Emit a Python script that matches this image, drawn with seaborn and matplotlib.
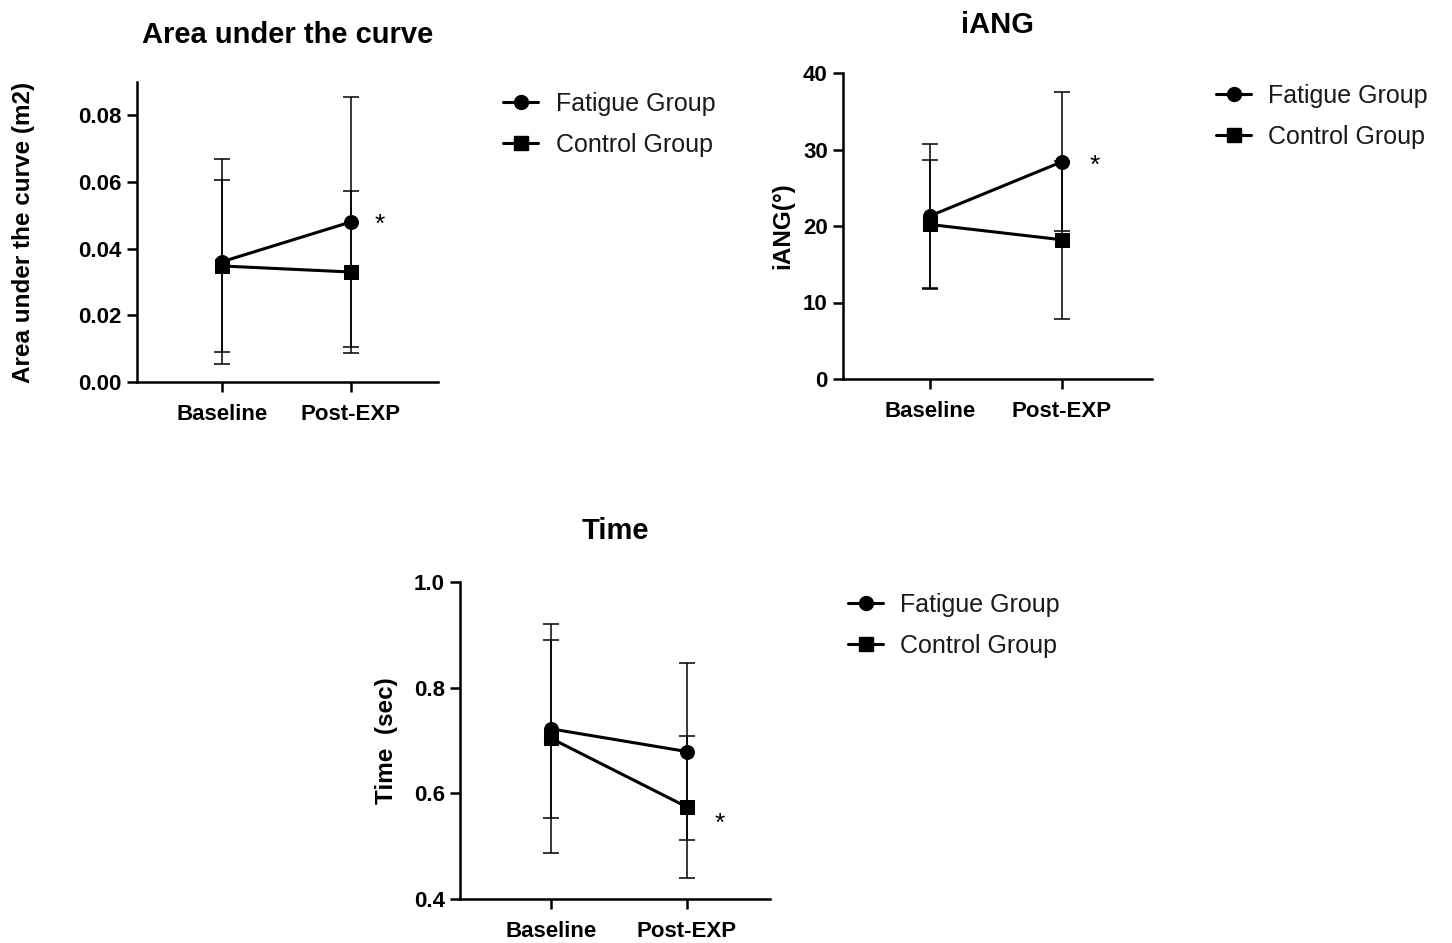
import matplotlib
matplotlib.use("Agg")
import matplotlib.pyplot as plt
import seaborn as sns
import pandas as pd
import numpy as np
from matplotlib.lines import Line2D

sns.set_style("ticks")
plt.rcParams['font.family'] = ['Liberation Sans', 'DejaVu Sans']
plt.rcParams['text.color'] = 'black'
plt.rcParams['axes.labelcolor'] = 'black'
plt.rcParams['xtick.color'] = 'black'
plt.rcParams['ytick.color'] = 'black'

timepoints = ["Baseline", "Post-EXP"]
groups = ["Fatigue Group", "Control Group"]

# Area under the curve (m2)
auc_fatigue_mean = [0.0361, 0.0480]
auc_fatigue_sd = [0.0307, 0.0374]
auc_control_mean = [0.0348, 0.0330]
auc_control_sd = [0.0259, 0.0242]

# iANG (deg)
iang_fatigue_mean = [21.3, 28.4]
iang_fatigue_sd = [9.4, 9.1]
iang_control_mean = [20.2, 18.2]
iang_control_sd = [8.4, 10.3]

# Time (sec)
time_fatigue_mean = [0.722, 0.679]
time_fatigue_sd = [0.168, 0.167]
time_control_mean = [0.704, 0.574]
time_control_sd = [0.217, 0.134]

W, H = 1452, 943
fig = plt.figure(figsize=(W / 100, H / 100), dpi=100)


def px_axes(l, t, r, b):
    return fig.add_axes([l / W, 1 - b / H, (r - l) / W, (b - t) / H])


panels = [
    dict(box=(137, 82, 438, 382), title="Area under the curve", ylabel="Area under the curve (m2)",
         fm=auc_fatigue_mean, fs=auc_fatigue_sd, cm=auc_control_mean, cs=auc_control_sd,
         ylim=(0, 0.09), yticks=[0, 0.02, 0.04, 0.06, 0.08], fmt="{:.2f}", xlim=(-0.664, 1.68),
         ylab_x=-0.338, star=(1.23, 0.0472), leg=(503, 92), title_y=1.157),
    dict(box=(843, 73, 1152, 379), title="iANG", ylabel="iANG(°)",
         fm=iang_fatigue_mean, fs=iang_fatigue_sd, cm=iang_control_mean, cs=iang_control_sd,
         ylim=(0, 40), yticks=[0, 10, 20, 30, 40], fmt="{:.0f}", xlim=(-0.655, 1.68),
         ylab_x=-0.158, star=(1.247, 27.8), leg=(1216, 84), title_y=1.157),
    dict(box=(460, 582, 770, 899), title="Time", ylabel="Time  (sec)",
         fm=time_fatigue_mean, fs=time_fatigue_sd, cm=time_control_mean, cs=time_control_sd,
         ylim=(0.4, 1.0), yticks=[0.4, 0.6, 0.8, 1.0], fmt="{:.1f}", xlim=(-0.67, 1.61),
         ylab_x=-0.200, star=(1.24, 0.542), leg=(848, 593), title_y=1.162),
]

markers = {"Fatigue Group": "o", "Control Group": "s"}
palette = {"Fatigue Group": "black", "Control Group": "black"}

for p in panels:
    ax = px_axes(*p["box"])
    x = np.arange(len(timepoints))
    df = pd.DataFrame({
        "pos": np.concatenate([x, x]),
        "mean": p["fm"] + p["cm"],
        "sd": p["fs"] + p["cs"],
        "group": [groups[0]] * len(x) + [groups[1]] * len(x),
    })
    # error bars (SD)
    for g in groups:
        sub = df[df["group"] == g]
        ax.errorbar(sub["pos"], sub["mean"], yerr=sub["sd"], fmt="none", ecolor="black",
                    elinewidth=1.1, capsize=6, capthick=1.1, zorder=2)
    sns.lineplot(data=df, x="pos", y="mean", hue="group", style="group", markers=markers,
                 dashes=False, palette=palette, linewidth=2.2, markersize=10,
                 markeredgecolor="black", ax=ax, legend=False, zorder=3)
    ax.set_xlim(*p["xlim"])
    ax.set_ylim(*p["ylim"])
    ax.set_xticks(x)
    ax.set_xticklabels(timepoints, fontsize=16, fontweight="bold")
    ax.set_yticks(p["yticks"])
    ax.set_yticklabels([p["fmt"].format(v) for v in p["yticks"]], fontsize=16, fontweight="bold")
    ax.set_xlabel("")
    ax.set_ylabel(p["ylabel"], fontsize=17.5, fontweight="bold")
    ax.yaxis.set_label_coords(p["ylab_x"], 0.5)
    for s in ["top", "right"]:
        ax.spines[s].set_visible(False)
    for s in ["left", "bottom"]:
        ax.spines[s].set_linewidth(1.8)
        ax.spines[s].set_color("black")
    ax.tick_params(axis="both", width=1.8, length=7, color="black", labelcolor="black")
    ax.tick_params(axis="x", pad=9)
    ax.tick_params(axis="y", pad=4)
    ax.set_facecolor("none")
    ax.text(0.5, p["title_y"], p["title"], transform=ax.transAxes, ha="center", va="center",
            fontsize=21, fontweight="bold", color="black")
    ax.text(p["star"][0], p["star"][1], "*", ha="center", va="center", fontsize=19, color="black")
    handles = [Line2D([0], [0], color="black", lw=2.2, marker=markers[g], markersize=10)
               for g in groups]
    lx, ly = p["leg"]
    fig.legend(handles, groups, loc="upper left", bbox_to_anchor=(lx / W, 1 - ly / H),
               frameon=False, fontsize=18, handlelength=1.4, handletextpad=0.7,
               labelspacing=0.68, borderpad=0, borderaxespad=0, labelcolor="#1a1a1a")

fig.savefig("out.png", dpi=100, facecolor="white")
